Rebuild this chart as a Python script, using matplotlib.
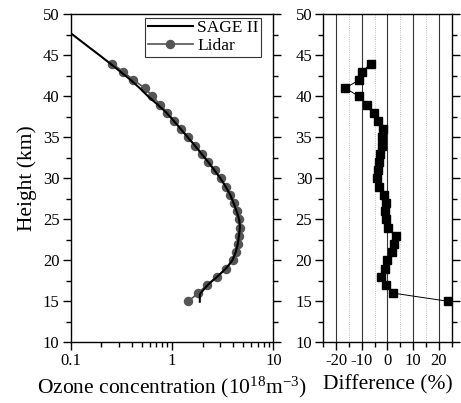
import numpy as np
import matplotlib
matplotlib.use('Agg')
import matplotlib.pyplot as plt
from matplotlib.ticker import MultipleLocator, FixedLocator, LogLocator, FuncFormatter, NullFormatter

plt.rcParams['font.family'] = ['Liberation Serif', 'DejaVu Serif']
plt.rcParams['mathtext.fontset'] = 'custom'
plt.rcParams['mathtext.rm'] = 'Liberation Serif'
plt.rcParams['mathtext.it'] = 'Liberation Serif:italic'

# --- data ---
sage_height = [47.7, 46, 45, 44, 43, 42, 41, 40, 39, 38, 37, 36, 35, 34, 33, 32, 31, 30,
               29, 28, 27, 26, 25, 24, 23, 22, 21, 20, 19, 18, 17, 16, 15.8, 14.95]
sage_ozone = [0.100, 0.151, 0.193, 0.245, 0.31, 0.39, 0.48, 0.58, 0.72, 0.88, 1.04, 1.22,
              1.43, 1.68, 1.95, 2.27, 2.62, 3.0, 3.38, 3.75, 4.05, 4.33, 4.6, 4.68, 4.58,
              4.46, 4.25, 3.95, 3.4, 2.8, 2.25, 1.92, 1.88, 1.88]

lidar_height = list(range(44, 14, -1))
lidar_ozone = [0.257, 0.329, 0.416, 0.54, 0.641, 0.763, 0.90, 1.05, 1.23, 1.44, 1.69, 1.96,
               2.28, 2.63, 3.01, 3.39, 3.74, 4.06, 4.35, 4.62, 4.69, 4.58, 4.48, 4.28, 3.97,
               3.42, 2.77, 2.21, 1.82, 1.44]

diff_height = list(range(44, 14, -1))
diff_pct = [-6.4, -9.9, -10.9, -16.5, -11.1, -7.8, -5.3, -3.6, -1.9, -2.3, -2.3, -2.9, -3.4,
            -3.8, -4.0, -3.2, -1.2, -0.5, -0.8, -0.7, 0.4, 3.2, 2.5, 1.6, -0.1, -0.8, -2.5,
            -0.4, 2.2, 23.7]

fig = plt.figure(figsize=(4.61, 4.03), dpi=100)
ax1 = fig.add_axes([0.1534, 0.1506, 0.4395, 0.8139])
ax2 = fig.add_axes([0.7013, 0.1506, 0.2781, 0.8139])

# left panel: profiles
ax1.plot(sage_ozone, sage_height, '-', color='black', lw=1.5, label='SAGE II', zorder=3)
ax1.plot(lidar_ozone, lidar_height, '-', color='#555555', lw=1.2, marker='o', ms=5.8,
         mfc='#555555', mec='#555555', label='Lidar', zorder=2)
ax1.set_xscale('log')
ax1.set_xlim(0.1, 10)
ax1.set_ylim(10, 50)
ax1.xaxis.set_major_locator(FixedLocator([0.1, 1, 10]))
ax1.xaxis.set_major_formatter(FuncFormatter(lambda v, p: {0.1: '0.1', 1: '1', 10: '10'}.get(round(v, 3), '')))
ax1.xaxis.set_minor_locator(LogLocator(base=10, subs=np.arange(2, 10)))
ax1.xaxis.set_minor_formatter(NullFormatter())
ax1.set_xlabel('Ozone concentration (10$^{18}$m$^{-3}$)', fontsize=15.5, labelpad=4)
ax1.set_ylabel('Height (km)', fontsize=15.5, labelpad=4)
leg = ax1.legend(loc='upper right', bbox_to_anchor=(0.94, 0.99), fontsize=12.5,
                 frameon=True, fancybox=False, handlelength=2.6, handletextpad=0.25,
                 borderpad=0.15, labelspacing=0.1, borderaxespad=0)
leg.get_frame().set_edgecolor('black')
leg.get_frame().set_linewidth(0.8)

# right panel: differences
ax2.set_xlim(-25, 25)
ax2.set_ylim(10, 50)
for v in [-20, -10, 0, 10, 20]:
    ax2.axvline(v, color='#333333', lw=0.8, zorder=0)
for v in [-15, -5, 5, 15]:
    ax2.axvline(v, color='#aaaaaa', lw=0.6, ls=':', zorder=0)
ax2.plot(diff_pct, diff_height, '-', color='black', lw=0.7, marker='s', ms=6,
         mfc='black', mec='black', zorder=3)
ax2.set_xticks([-20, -10, 0, 10, 20])
ax2.set_xticklabels(['-20', '-10', '0', '10', '20'])
ax2.xaxis.set_minor_locator(FixedLocator([-25, -15, -5, 5, 15, 25]))
ax2.set_xlabel('Difference (%)', fontsize=15.5, labelpad=4)

for ax in (ax1, ax2):
    ax.yaxis.set_major_locator(MultipleLocator(5))
    ax.yaxis.set_minor_locator(MultipleLocator(2.5))
    ax.tick_params(which='both', direction='out', top=False, right=True,
                   labelsize=12, width=1.0, pad=2)
    ax.tick_params(which='major', length=6)
    ax.tick_params(which='minor', length=3.5)
    for s in ax.spines.values():
        s.set_linewidth(1.0)

fig.savefig('out.png', dpi=100)
